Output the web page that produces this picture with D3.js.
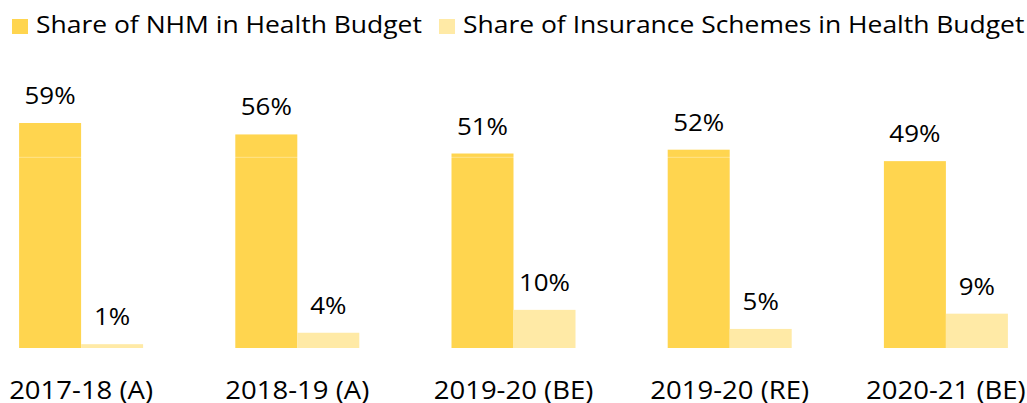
<!DOCTYPE html>
<html><head><meta charset="utf-8">
<script src="https://cdn.jsdelivr.net/npm/d3@7"></script>
<style>body{margin:0;background:#fff}svg{display:block}text{font-family:"Open Sans",sans-serif;fill:#000}</style>
</head><body><svg id="c" width="1027" height="403"></svg>
<script>
const categories = ["2017-18 (A)", "2018-19 (A)", "2019-20 (BE)", "2019-20 (RE)", "2020-21 (BE)"];
const seriesNames = ["Share of NHM in Health Budget", "Share of Insurance Schemes in Health Budget"];
const nhm = [59, 56, 51, 52, 49];
const insurance = [1, 4, 10, 5, 9];
const colors = ["#FFD54F", "#FFEAA6"];

const svg = d3.select("#c");
const baseY = 348;
const y = d3.scaleLinear().domain([0, 59]).range([baseY, 123]);
const x0 = d3.scaleBand().domain(categories).range([-27, 1054]).paddingInner(0).paddingOuter(0);
const x1 = d3.scaleBand().domain([0, 1]).range([0, 124]);
const groupOffset = (x0.bandwidth() - 124) / 2;

// horizontal widening to mimic the wider original typeface
function widen(sel, k) {
  sel.each(function () {
    const w = this.getComputedTextLength();
    d3.select(this).attr("textLength", w * k).attr("lengthAdjust", "spacingAndGlyphs");
  });
}

const data = categories.map((c, i) => ({c, vals: [nhm[i], insurance[i]]}));

const g = svg.selectAll("g.grp").data(data).join("g")
  .attr("transform", d => `translate(${x0(d.c) + groupOffset},0)`);

g.selectAll("rect").data(d => d.vals.map((v, k) => ({v, k}))).join("rect")
  .attr("x", d => x1(d.k)).attr("width", x1.bandwidth())
  .attr("y", d => y(d.v)).attr("height", d => baseY - y(d.v))
  .attr("fill", d => colors[d.k]);

// faint gridline at 50%
svg.append("line").attr("x1", 0).attr("x2", 1027).attr("y1", y(50)).attr("y2", y(50))
  .attr("stroke", "#fff").attr("stroke-opacity", 0.35).attr("stroke-width", 1);

const vals = g.selectAll("text.val").data(d => d.vals.map((v, k) => ({v, k}))).join("text")
  .attr("class", "val")
  .attr("x", d => x1(d.k) + x1.bandwidth() / 2)
  .attr("y", d => y(d.v) - 19)
  .attr("text-anchor", "middle").attr("font-size", 24)
  .text(d => d.v + "%");
widen(vals, 1.08);

const xAxis = d3.axisBottom(x0).tickSize(0).tickPadding(0);
const ax = svg.append("g").attr("transform", `translate(0,${baseY})`).call(xAxis);
ax.select(".domain").remove();
const xt = ax.selectAll("text").attr("font-size", 25).attr("dy", 0).attr("y", 51)
  .style("font-family", '"Open Sans",sans-serif').attr("fill", "#000");
widen(xt, 1.1);

// legend
const legX = [12, 439];
const leg = svg.selectAll("g.leg").data(seriesNames).join("g")
  .attr("transform", (d, i) => `translate(${legX[i]},19)`);
leg.append("rect").attr("width", 16).attr("height", 15).attr("fill", (d, i) => colors[i]);
const lt = leg.append("text").attr("x", 24).attr("y", 14).attr("font-size", 23).text(d => d);
widen(lt, 1.15);
</script></body></html>
